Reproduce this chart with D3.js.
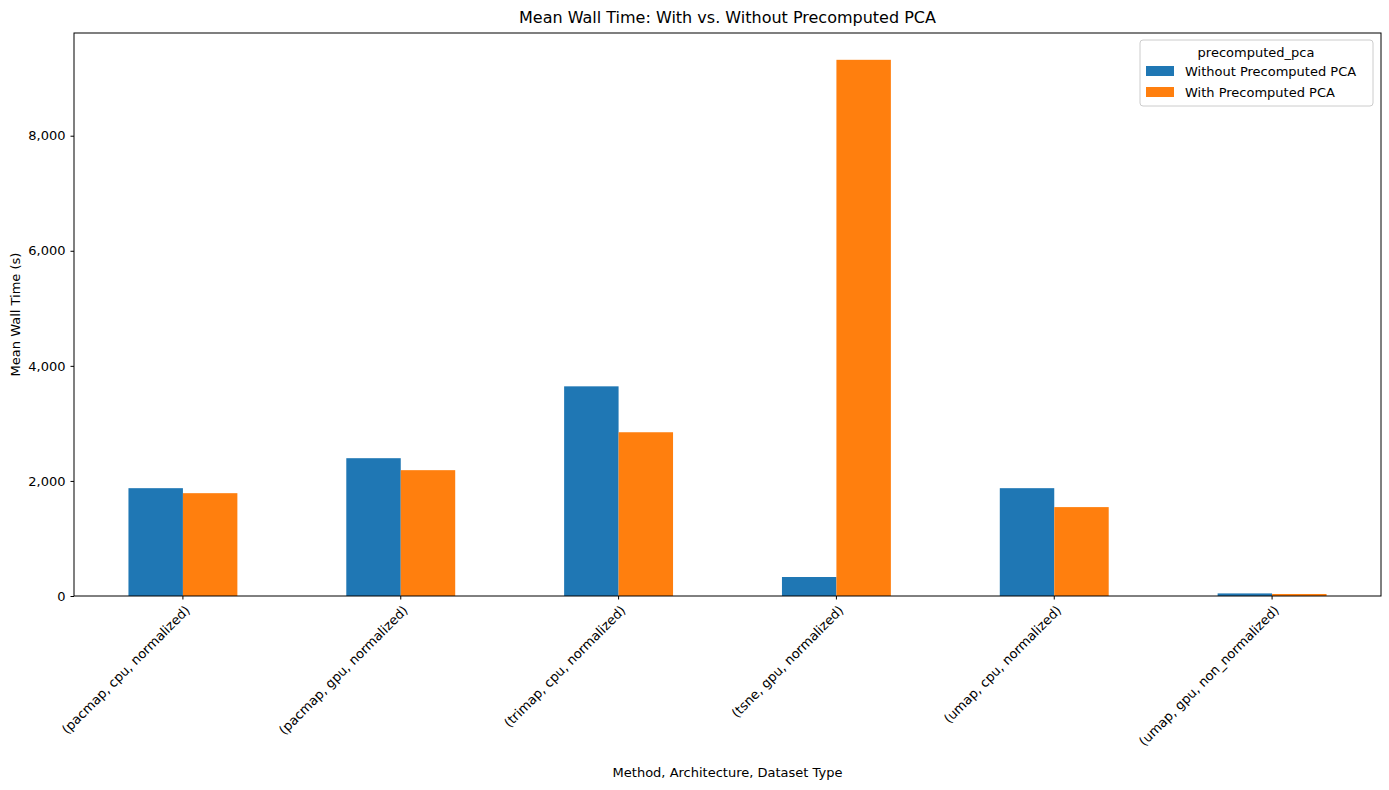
<!DOCTYPE html>
<html><head><meta charset="utf-8">
<script src="https://cdn.jsdelivr.net/npm/d3@7"></script>
<style>body{margin:0;background:#fff;font-family:"DejaVu Sans",sans-serif;}</style>
</head><body>
<svg id="c" width="1389" height="790"></svg>
<script>
const categories = ["(pacmap, cpu, normalized)","(pacmap, gpu, normalized)","(trimap, cpu, normalized)","(tsne, gpu, normalized)","(umap, cpu, normalized)","(umap, gpu, non_normalized)"];
const seriesNames = ["Without Precomputed PCA","With Precomputed PCA"];
const withoutPCA = [1874, 2395, 3644, 330, 1874, 45];
const withPCA = [1787, 2187, 2846, 9319, 1545, 35];
const yTicks = [0,2000,4000,6000,8000];
const colors = ["#1f77b4","#ff7f0e"];

const svg = d3.select("#c");
const L=74,R=1381,T=33,B=596;
const x = d3.scaleBand().domain(categories).range([L,R]).paddingInner(0.5).paddingOuter(0.25);
const xs = d3.scaleBand().domain([0,1]).range([0,x.bandwidth()]);
const y = d3.scaleLinear().domain([0,9785]).range([B,T]);
const series=[withoutPCA,withPCA];
series.forEach((vals,si)=>{
  svg.append("g").selectAll("rect").data(vals).join("rect")
   .attr("x",(d,i)=>x(categories[i])+xs(si)).attr("width",xs.bandwidth())
   .attr("y",d=>y(d)).attr("height",d=>B-y(d)).attr("fill",colors[si]);
});
const ya = svg.append("g").attr("transform",`translate(${L},0)`).call(d3.axisLeft(y).tickValues(yTicks).tickSize(3.5).tickPadding(5));
const xa = svg.append("g").attr("transform",`translate(0,${B})`).call(d3.axisBottom(x).tickSize(3.5).tickPadding(5));
[ya,xa].forEach(a=>{a.selectAll("text").attr("font-size",13).attr("font-family","DejaVu Sans").attr("fill","#000");a.select(".domain").remove();});
xa.selectAll("text").attr("text-anchor","end").attr("transform","rotate(-45)").attr("dx","-0.4em").attr("dy","0.6em");
svg.append("rect").attr("x",L).attr("y",T).attr("width",R-L).attr("height",B-T).attr("fill","none").attr("stroke","#000").attr("stroke-width",1);
svg.append("text").attr("x",(L+R)/2).attr("y",23).attr("text-anchor","middle").attr("font-size",16).text("Mean Wall Time: With vs. Without Precomputed PCA");
svg.append("text").attr("x",(L+R)/2).attr("y",777).attr("text-anchor","middle").attr("font-size",13).text("Method, Architecture, Dataset Type");
svg.append("text").attr("transform",`translate(20,${(T+B)/2}) rotate(-90)`).attr("text-anchor","middle").attr("font-size",13).text("Mean Wall Time (s)");
const lg=svg.append("g");
lg.append("rect").attr("x",1140).attr("y",40).attr("width",233).attr("height",66).attr("rx",3).attr("fill","#fff").attr("stroke","#ccc");
lg.append("text").attr("x",1256).attr("y",57).attr("text-anchor","middle").attr("font-size",13).text("precomputed_pca");
seriesNames.forEach((n,i)=>{
  lg.append("rect").attr("x",1146).attr("y",66+i*21).attr("width",28).attr("height",10).attr("fill",colors[i]);
  lg.append("text").attr("x",1185).attr("y",76+i*21).attr("font-size",13).text(n);
});
</script></body></html>
